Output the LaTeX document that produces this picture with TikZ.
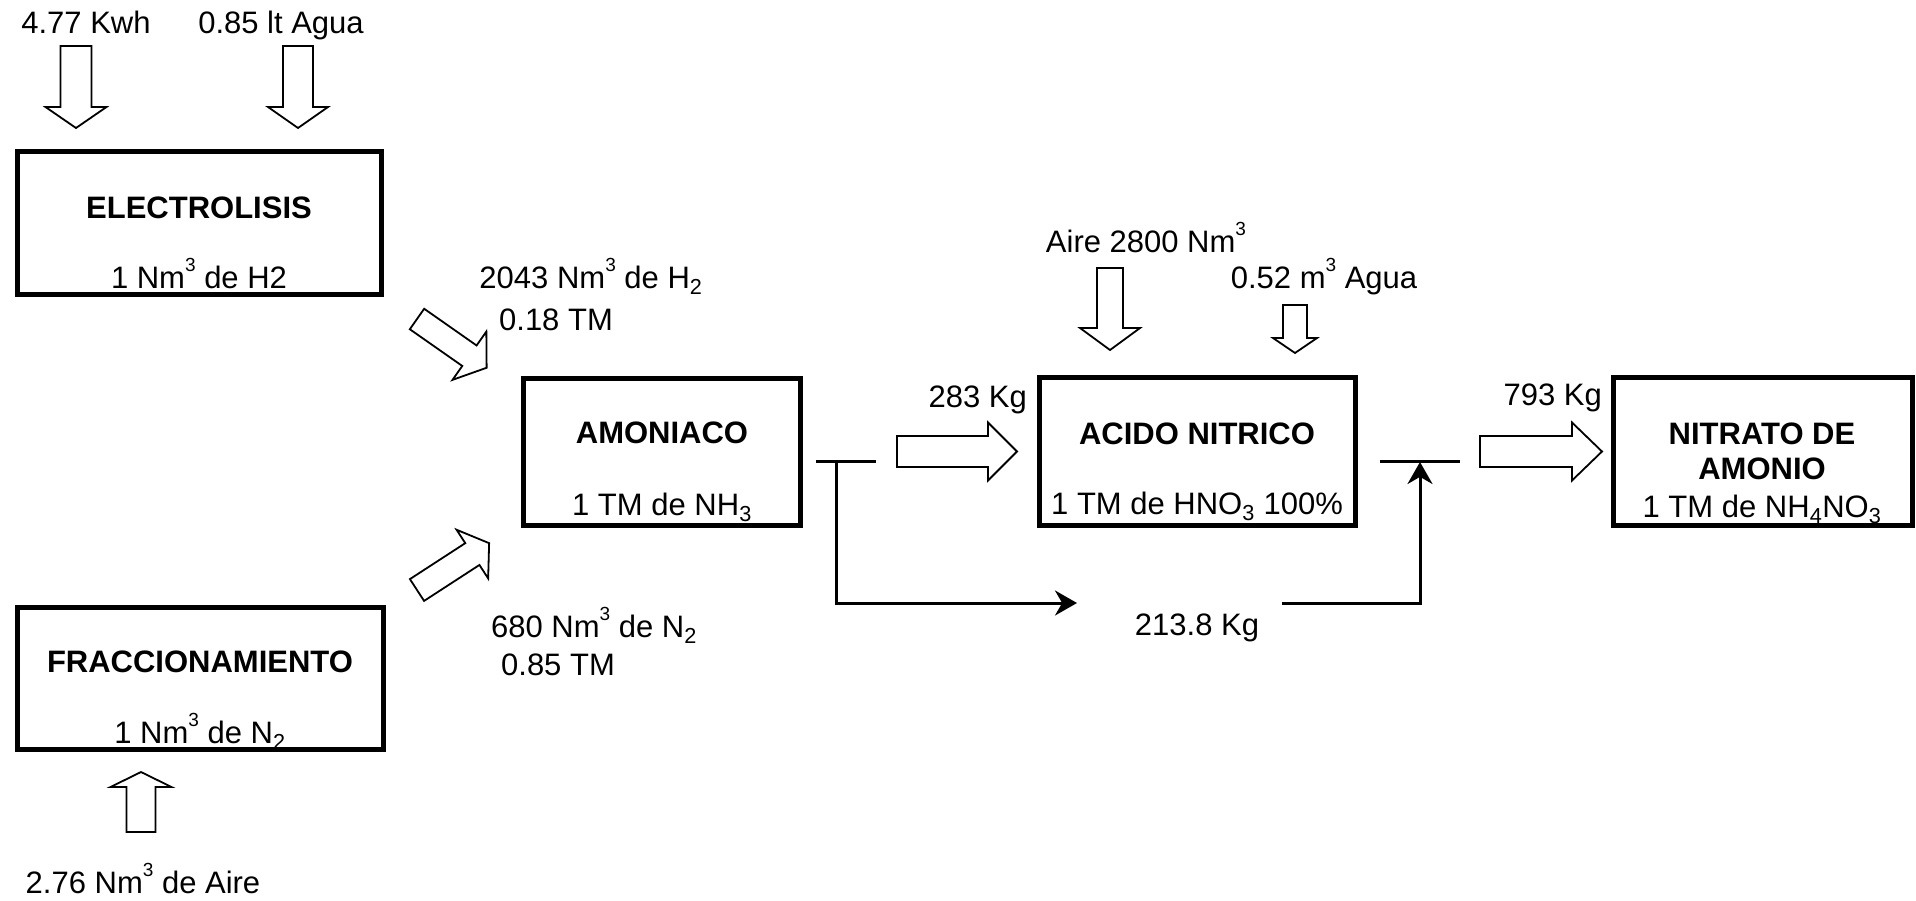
\documentclass[tikz,border=0pt]{standalone}
\usepackage{fontspec}
\setmainfont{Liberation Sans}
\usetikzlibrary{arrows.meta}
\newcommand\BlkArrow[7]{%
  \begin{scope}[shift={(#1,#2)},rotate=#3]
    \draw[blk] (0,-#5) -- ({#4-#7},-#5) -- ({#4-#7},-#6) -- (#4,0) -- ({#4-#7},#6) -- ({#4-#7},#5) -- (0,#5) -- cycle;
  \end{scope}}
\newcommand\supr[1]{\raisebox{17pt}{\fontsize{19}{19}\selectfont #1}}
\begin{document}
\begin{tikzpicture}[x=1pt,y=-1pt,
  box/.style={draw,line width=5pt,inner sep=0pt},
  lbl/.style={inner sep=0pt,anchor=base,font=\fontsize{31}{36}\selectfont},
  ttl/.style={lbl,font=\fontsize{31}{36}\selectfont\bfseries},
  blk/.style={draw,line width=1.8pt,fill=white,line join=miter},
  conn/.style={line width=3pt},
  tip/.style={-{Stealth[length=22pt,width=25pt]}}]
\useasboundingbox[fill=white] (0,0) rectangle (1916,900);

% boxes
\node[box,minimum width=364pt,minimum height=143pt] (elec) at (199.5,223) {};
\node[box,minimum width=366pt,minimum height=142pt] (frac) at (200.5,678.5) {};
\node[box,minimum width=277pt,minimum height=147pt] (amon) at (662,452) {};
\node[box,minimum width=316pt,minimum height=148pt] (acid) at (1197,451.5) {};
\node[box,minimum width=299pt,minimum height=148pt] (nitr) at (1763,451.5) {};

% box texts
\node[ttl] (elecT) at (199,218) {ELECTROLISIS};
\node[lbl] (elecS) at (199,288) {1 Nm\supr{3} de H2};
\node[ttl] (fracT) at (200,672) {FRACCIONAMIENTO};
\node[lbl] (fracS) at (200,743) {1 Nm\supr{3} de N\textsubscript{2}};
\node[ttl] (amonT) at (662,443) {AMONIACO};
\node[lbl] (amonS) at (662,515) {1 TM de NH\textsubscript{3}};
\node[ttl] (acidT) at (1197,444) {ACIDO NITRICO};
\node[lbl] (acidS) at (1197,514) {1 TM de HNO\textsubscript{3} 100\%};
\node[ttl] (nitrT1) at (1762,444) {NITRATO DE};
\node[ttl] (nitrT2) at (1762,479) {AMONIO};
\node[lbl] (nitrS) at (1762,517) {1 TM de NH\textsubscript{4}NO\textsubscript{3}};

% outside labels
\node[lbl] (kwh) at (86,33) {4.77 Kwh};
\node[lbl] (agua1) at (281,33) {0.85 lt Agua};
\node[lbl] (h2a) at (591,288) {2043 Nm\supr{3} de H\textsubscript{2}};
\node[lbl] (h2b) at (556,330) {0.18 TM};
\node[lbl] (n2a) at (594,637) {680 Nm\supr{3} de N\textsubscript{2}};
\node[lbl] (n2b) at (558,675) {0.85 TM};
\node[lbl] (aire1) at (143,893) {2.76 Nm\supr{3} de Aire};
\node[lbl,anchor=base east] (kg283) at (1027,407) {283 Kg};
\node[lbl] (aire2) at (1146,252) {Aire 2800 Nm\supr{3}};
\node[lbl] (agua2) at (1324,288) {0.52 m\supr{3} Agua};
\node[lbl] (kg2138) at (1197,635) {213.8 Kg};
\node[lbl,anchor=base east] (kg793) at (1602,405) {793 Kg};

% block arrows
\BlkArrow{76}{46}{-90}{82}{15.5}{30.5}{21}
\BlkArrow{298}{46}{-90}{82}{15}{30}{21}
\BlkArrow{417}{319}{-35}{85}{12.5}{29.5}{21}
\BlkArrow{417}{590}{33}{86}{13}{29}{20}
\BlkArrow{141}{832}{90}{60}{14.5}{30.5}{15}
\BlkArrow{1110}{268}{-90}{82}{13}{30}{22}
\BlkArrow{1295}{305}{-90}{48}{12}{22}{15}
\BlkArrow{897}{451.5}{0}{120}{15.5}{29}{29}
\BlkArrow{1480}{451.5}{0}{122}{15.5}{29}{30}

% split / join lines
\coordinate (s1) at (816,461);
\coordinate (s2) at (876,461);
\coordinate (s3) at (836,461);
\coordinate (s4) at (836,603);
\coordinate (s5) at (1077,603);
\coordinate (j1) at (1282,603);
\coordinate (j2) at (1420,603);
\coordinate (j3) at (1420,462);
\coordinate (j4) at (1380,461);
\coordinate (j5) at (1460,461);
\draw[conn] (s1) -- (s2);
\draw[conn,tip] (s3) -- (s4) -- (s5);
\draw[conn,tip] (j1) -- (j2) -- (j3);
\draw[conn] (j4) -- (j5);
\end{tikzpicture}
\end{document}
